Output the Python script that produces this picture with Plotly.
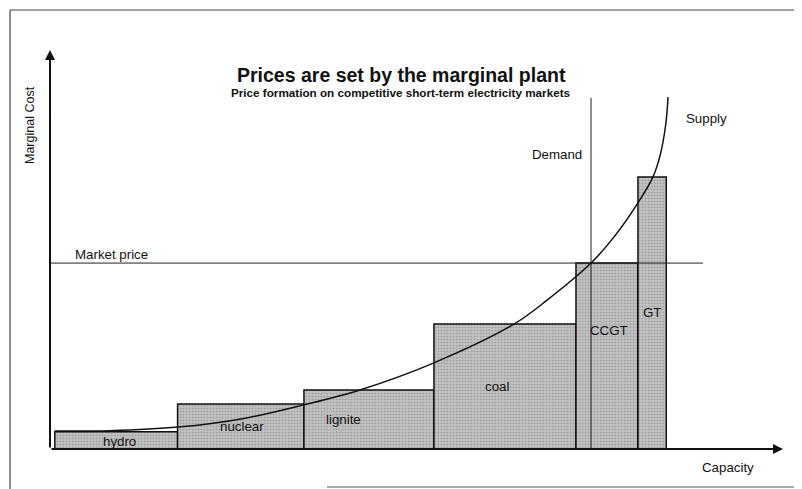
import plotly.graph_objects as go

# ---- data ----
plants = ["hydro", "nuclear", "lignite", "coal", "CCGT", "GT"]
bar_left = [0.8, 21.2, 42.2, 63.8, 87.4, 97.7]
bar_width = [20.4, 21.0, 21.6, 23.6, 10.3, 4.7]
marginal_cost = [4.3, 11.3, 14.8, 31.3, 46.6, 68.2]

market_price = 46.6
demand_capacity = 89.9
demand_top = 88.0

supply_x = [0.8, 9.9, 21.3, 32.0, 42.0, 51.5, 63.8, 77.1, 82.6, 89.9, 93.7, 97.7, 100.2, 101.4, 102.3, 102.7]
supply_y = [4.5, 4.6, 5.5, 7.6, 11.0, 14.8, 21.6, 31.3, 37.3, 46.6, 53.1, 61.7, 68.2, 73.7, 81.2, 88.2]

# label offsets relative to bar centers (x) and bar heights (fraction)
label_dx = [0.6, 0.2, -4.3, -1.3, 0.3, 0.0]
label_fy = [0.45, 0.5, 0.5, 0.5, 0.64, 0.5]

X_MAX, Y_MAX = 121.8, 100
FONT = "Liberation Sans, Arial, sans-serif"
BODY = 8  # default page margin around the plot div
W, H = 802 - BODY, 489 - BODY


def px(x):
    return (x - BODY) / W


def py(y):
    return 1 - (y - BODY) / H


fig = go.Figure()

centers = [l + w / 2 for l, w in zip(bar_left, bar_width)]
fig.add_trace(go.Bar(
    x=centers, y=marginal_cost, width=bar_width, base=0,
    marker=dict(color="#bdbdbd", line=dict(color="#111111", width=1.5),
                pattern=dict(shape=".", fgcolor="#7a7a7a", bgcolor="#c6c6c6", size=3, solidity=0.4)),
    showlegend=False, hoverinfo="skip",
))

# market price line
fig.add_trace(go.Scatter(x=[0, 108.5], y=[market_price, market_price], mode="lines",
                         line=dict(color="#222222", width=1), showlegend=False, hoverinfo="skip"))
# demand line
fig.add_trace(go.Scatter(x=[demand_capacity, demand_capacity], y=[0, demand_top], mode="lines",
                         line=dict(color="#222222", width=1), showlegend=False, hoverinfo="skip"))
# supply curve
fig.add_trace(go.Scatter(x=supply_x, y=supply_y, mode="lines",
                         line=dict(color="#111111", width=1.5, shape="spline", smoothing=1.0),
                         showlegend=False, hoverinfo="skip"))

LBL = dict(family=FONT, size=13.3, color="#111")
ann = []
for name, c, h, dx, fy in zip(plants, centers, marginal_cost, label_dx, label_fy):
    ann.append(dict(x=c + dx, y=h * fy, text=name, showarrow=False, xref="x", yref="y",
                    xanchor="center", yanchor="middle", font=LBL))

# axis arrows
ann.append(dict(x=0, y=Y_MAX, ax=0, ay=0, xref="x", yref="y", axref="x", ayref="y", text="",
                showarrow=True, arrowhead=2, arrowsize=1, arrowwidth=2, arrowcolor="#111"))
ann.append(dict(x=X_MAX, y=0, ax=0, ay=0, xref="x", yref="y", axref="x", ayref="y", text="",
                showarrow=True, arrowhead=2, arrowsize=1, arrowwidth=2, arrowcolor="#111"))

# texts
ann += [
    dict(x=px(401), y=py(75), xref="paper", yref="paper", xanchor="center", yanchor="middle",
         text="<b>Prices are set by the marginal plant</b>",
         showarrow=False, font=dict(family=FONT, size=19.5, color="#111")),
    dict(x=px(401), y=py(92), xref="paper", yref="paper", xanchor="center", yanchor="middle",
         text="<b>Price formation on competitive short-term electricity markets</b>",
         showarrow=False, font=dict(family=FONT, size=11.7, color="#111")),
    dict(x=px(30), y=py(125), xref="paper", yref="paper", xanchor="center", yanchor="middle",
         text="Marginal Cost", textangle=-90,
         showarrow=False, font=dict(family=FONT, size=12.5, color="#111")),
    dict(x=px(73), y=py(254), xref="paper", yref="paper", xanchor="left", yanchor="middle",
         text="Market price", showarrow=False, font=LBL),
    dict(x=px(530), y=py(154), xref="paper", yref="paper", xanchor="left", yanchor="middle",
         text="Demand", showarrow=False, font=LBL),
    dict(x=px(684), y=py(118), xref="paper", yref="paper", xanchor="left", yanchor="middle",
         text="Supply", showarrow=False, font=LBL),
    dict(x=px(700), y=py(467), xref="paper", yref="paper", xanchor="left", yanchor="middle",
         text="Capacity", showarrow=False, font=LBL),
]

shapes = [
    dict(type="line", xref="paper", yref="paper", x0=px(10), x1=1, y0=py(10), y1=py(10),
         line=dict(color="#444", width=1.2)),
    dict(type="line", xref="paper", yref="paper", x0=px(10), x1=px(10), y0=0, y1=py(10),
         line=dict(color="#444", width=1.2)),
    dict(type="line", xref="paper", yref="paper", x0=px(327), x1=1, y0=py(487), y1=py(487),
         line=dict(color="#555", width=1.2)),
]

fig.update_layout(
    width=W, height=H, margin=dict(l=0, r=0, t=0, b=0),
    paper_bgcolor="white", plot_bgcolor="white",
    barmode="overlay", annotations=ann, shapes=shapes,
    xaxis=dict(domain=[px(50), px(783)], range=[0, X_MAX], visible=False, fixedrange=True),
    yaxis=dict(domain=[py(449), py(50)], range=[0, Y_MAX], visible=False, fixedrange=True),
)

fig.write_html("out.html")
